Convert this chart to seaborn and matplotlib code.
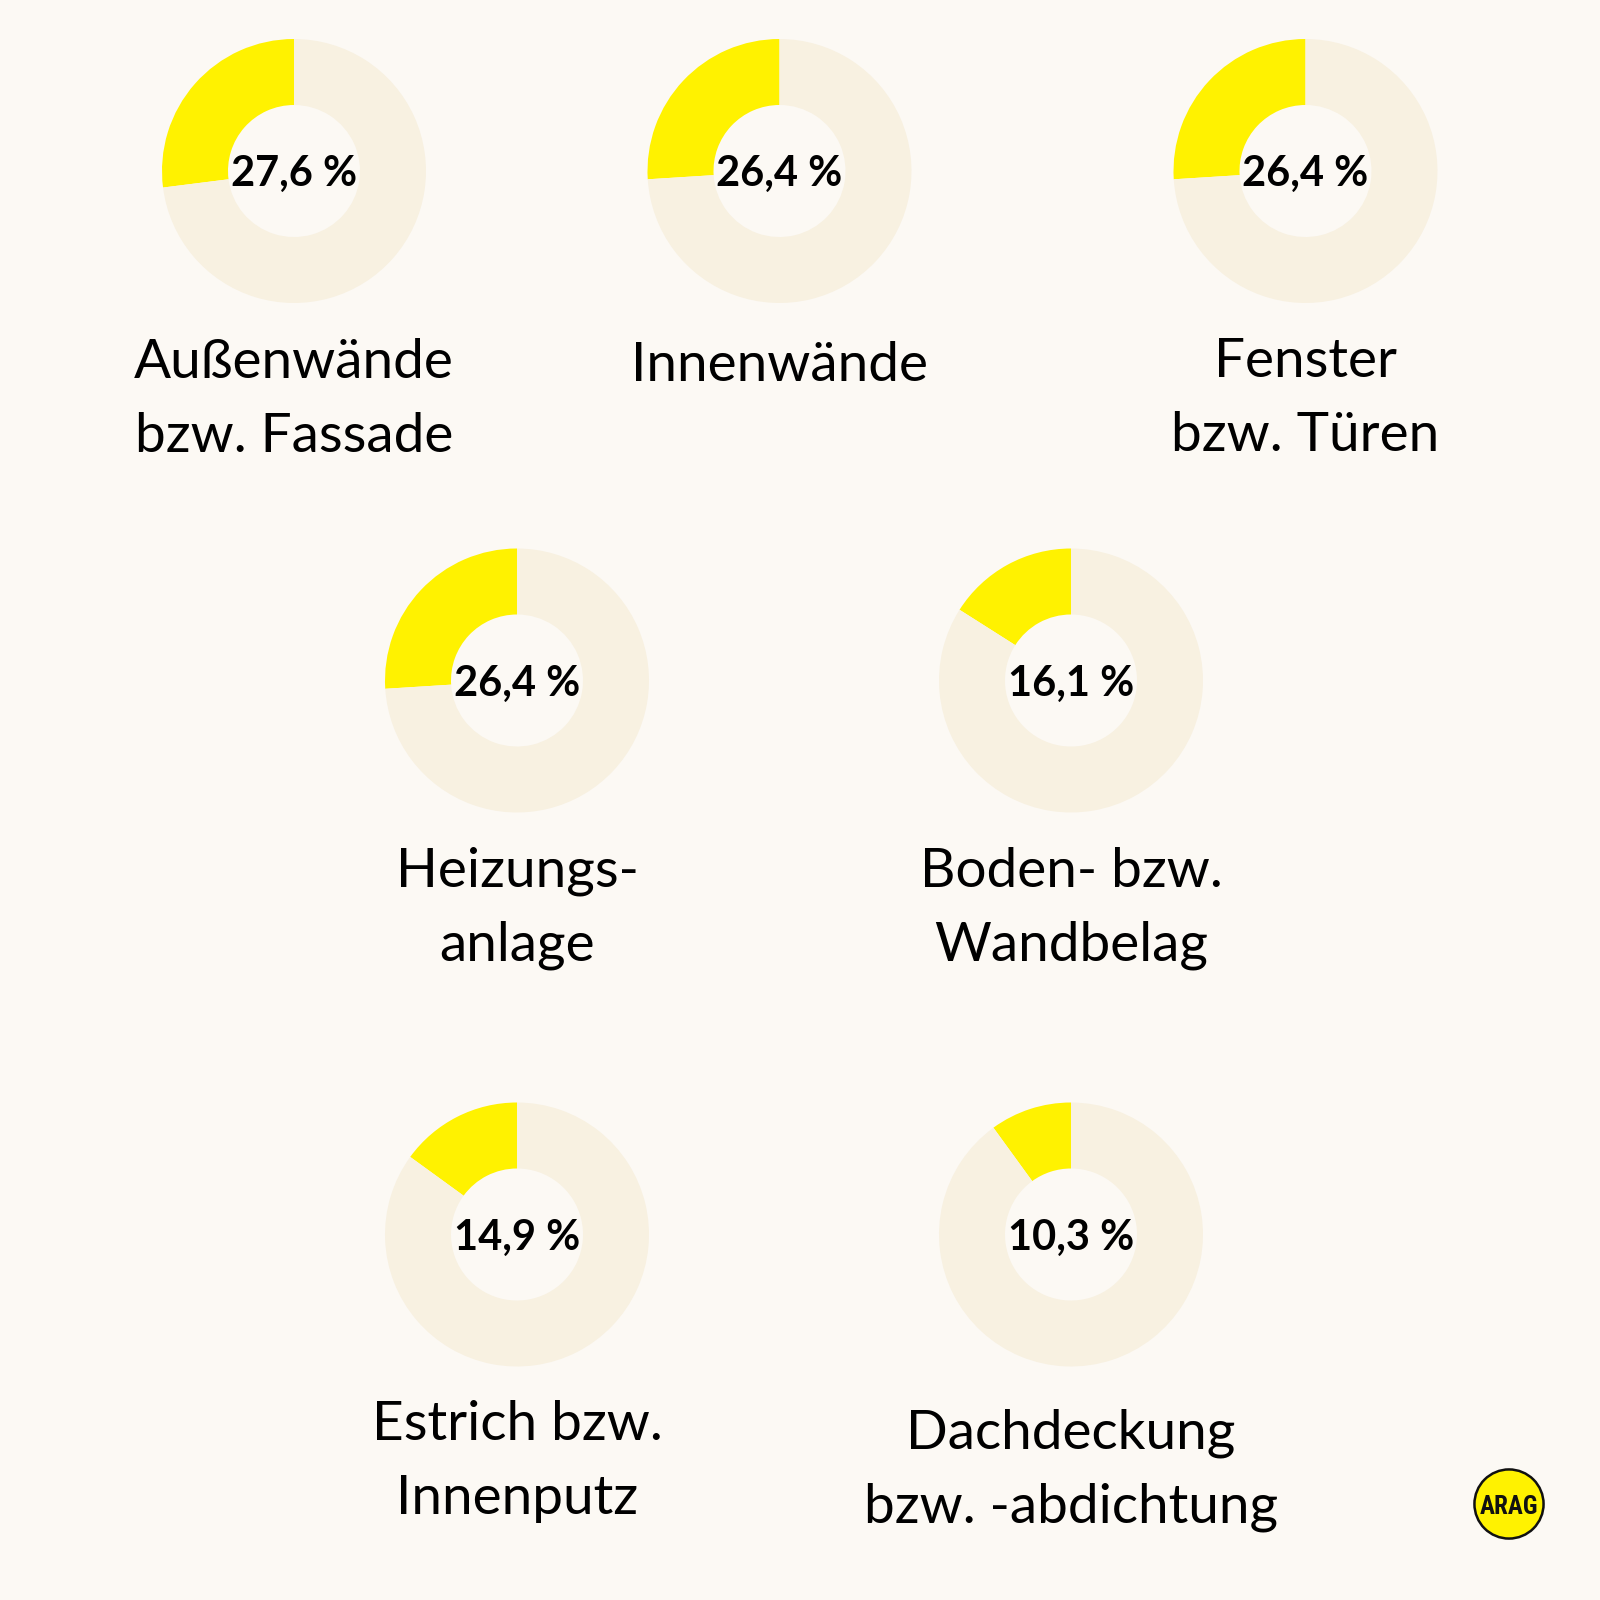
import numpy as np
import pandas as pd
import matplotlib
matplotlib.use("Agg")
import matplotlib.pyplot as plt
from matplotlib.patches import Circle
import seaborn as sns

# data
labels = ["Außenwände\nbzw. Fassade", "Innenwände", "Fenster\nbzw. Türen",
          "Heizungs-\nanlage", "Boden- bzw.\nWandbelag",
          "Estrich bzw.\nInnenputz", "Dachdeckung\nbzw. -abdichtung"]
# slices in the picture follow the rounded shares, the printed text keeps the decimals
shares = [27, 26, 26, 26, 16, 15, 10]
value_labels = ["27,6 %", "26,4 %", "26,4 %", "26,4 %", "16,1 %", "14,9 %", "10,3 %"]
logo_text = "ARAG"

df = pd.DataFrame({"label": labels, "share": shares, "text": value_labels})

# layout in pixels, figure is 1600 x 1600
SIZE = 1600
RADIUS = 132
centers = [(294, 171), (779.5, 171), (1305.5, 171),
           (517, 680.5), (1071, 680.5),
           (517, 1234.5), (1071, 1234.5)]
label_baselines = [378, 381, 377, 887, 887, 1440, 1448]
LINE_GAP = 74
VALUE_DROP = 15 / RADIUS

BG = "#FCF9F4"
RING = "#F8F1E1"
YELLOW = "#FFF200"

sns.set_theme(style="white", rc={"figure.facecolor": BG, "axes.facecolor": "none"})
plt.rcParams["font.family"] = ["Lato", "DejaVu Sans"]
palette = sns.color_palette([YELLOW, RING])

fig = plt.figure(figsize=(16, 16), dpi=100)


def px_axes(cx, cy, r):
    return fig.add_axes([(cx - r) / SIZE, 1 - (cy + r) / SIZE, 2 * r / SIZE, 2 * r / SIZE])


for row, (cx, cy), base in zip(df.itertuples(), centers, label_baselines):
    ax = px_axes(cx, cy, RADIUS)
    ax.pie([row.share, 100 - row.share], colors=palette, startangle=90,
           radius=1, wedgeprops={"width": 0.5, "linewidth": 0},
           normalize=True)
    ax.set_xlim(-1, 1)
    ax.set_ylim(-1, 1)
    ax.text(0, -VALUE_DROP, row.text, ha="center", va="baseline", fontsize=30,
            fontweight="bold", color="black")
    for i, line in enumerate(row.label.split("\n")):
        fig.text(cx / SIZE, 1 - (base + i * LINE_GAP) / SIZE, line, ha="center",
                 va="baseline", fontsize=39.5, color="black")

# logo
ax = px_axes(1509, 1504, 36)
ax.set_xlim(-1, 1)
ax.set_ylim(-1, 1)
ax.axis("off")
ax.add_patch(Circle((0, 0), 0.96, facecolor=YELLOW, edgecolor="#111111", linewidth=1.8))
ax.text(0, 0, logo_text, ha="center", va="center_baseline", fontsize=18,
        fontweight="bold", color="#111111", family=["Roboto Condensed", "Roboto", "DejaVu Sans"])

fig.savefig("out.png", dpi=100, facecolor=BG)
